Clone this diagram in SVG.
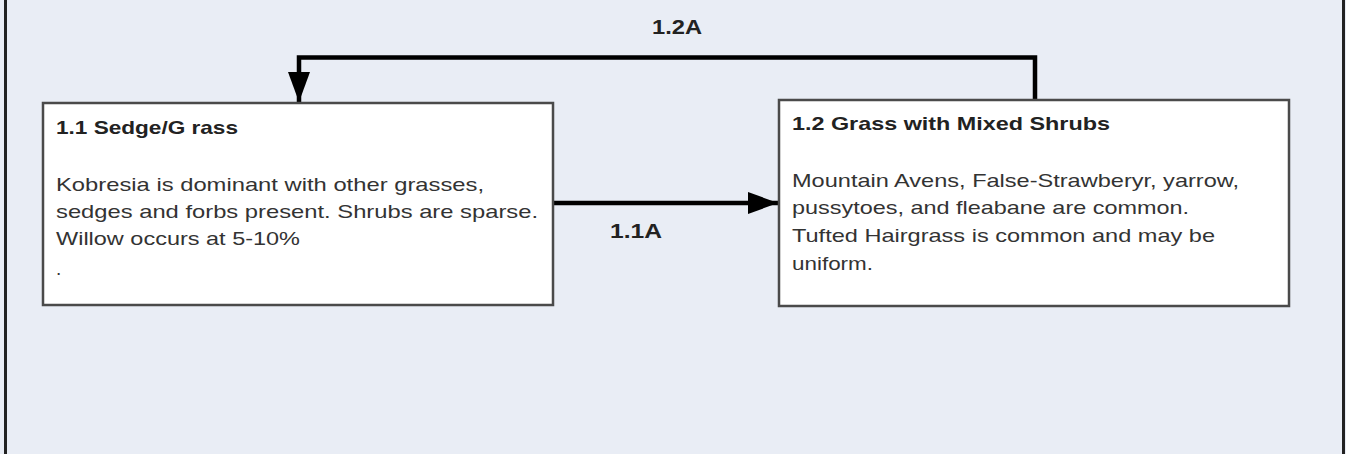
<svg xmlns="http://www.w3.org/2000/svg" width="1346" height="454" viewBox="0 0 1346 454">
<style>
.box{fill:#ffffff;stroke:#4a4a4a;stroke-width:2.5}
.t{font-family:"Liberation Sans",Arial,sans-serif;font-size:19px;fill:#333}
.h{font-family:"Liberation Sans",Arial,sans-serif;font-size:19px;font-weight:bold;fill:#222}
.lbl{font-family:"Liberation Sans",Arial,sans-serif;font-size:21px;font-weight:bold;fill:#222;text-anchor:middle}
.c{fill:none;stroke:#000;stroke-width:4.5}
</style>
<defs>
<marker id="ah" markerUnits="userSpaceOnUse" markerWidth="30" markerHeight="24" viewBox="0 0 30 24" refX="30" refY="12" orient="auto">
<path d="M0,1 L30,12 L0,23 Z" fill="#000"/>
</marker>
</defs>
<rect x="0" y="0" width="1346" height="454" fill="#e9edf5"/>
<line x1="5.5" y1="0" x2="5.5" y2="454" stroke="#222" stroke-width="3"/>
<line x1="1343.5" y1="0" x2="1343.5" y2="454" stroke="#222" stroke-width="3"/>
<g id="connectors">
<path class="c" d="M1035,99 L1035,57.5 L299,57.5 L299,102" marker-end="url(#ah)"/>
<path class="c" d="M553,203 L778,203" marker-end="url(#ah)"/>
<text class="lbl" x="677" y="34" textLength="50" lengthAdjust="spacingAndGlyphs">1.2A</text>
<text class="lbl" x="636" y="238" textLength="52" lengthAdjust="spacingAndGlyphs">1.1A</text>
</g>
<g id="node-1-1">
<rect class="box" x="43" y="103" width="510" height="202"/>
<text class="h" x="56" y="134" textLength="182" lengthAdjust="spacingAndGlyphs">1.1 Sedge/G rass</text>
<text class="t" x="56" y="191" textLength="428" lengthAdjust="spacingAndGlyphs">Kobresia  is dominant with other grasses,</text>
<text class="t" x="56" y="218" textLength="482" lengthAdjust="spacingAndGlyphs">sedges and forbs present.  Shrubs are sparse.</text>
<text class="t" x="56" y="245" textLength="244" lengthAdjust="spacingAndGlyphs">Willow occurs at 5-10%</text>
<text class="t" x="56" y="275">.</text>
</g>
<g id="node-1-2">
<rect class="box" x="779" y="100" width="510" height="206"/>
<text class="h" x="792" y="130" textLength="318" lengthAdjust="spacingAndGlyphs">1.2 Grass with Mixed Shrubs</text>
<text class="t" x="792" y="187" textLength="447" lengthAdjust="spacingAndGlyphs">Mountain Avens, False-Strawberyr, yarrow,</text>
<text class="t" x="792" y="214" textLength="397" lengthAdjust="spacingAndGlyphs">pussytoes, and fleabane are common.</text>
<text class="t" x="792" y="242" textLength="423" lengthAdjust="spacingAndGlyphs">Tufted Hairgrass is common and may be</text>
<text class="t" x="792" y="270" textLength="81" lengthAdjust="spacingAndGlyphs">uniform.</text>
</g>
</svg>
